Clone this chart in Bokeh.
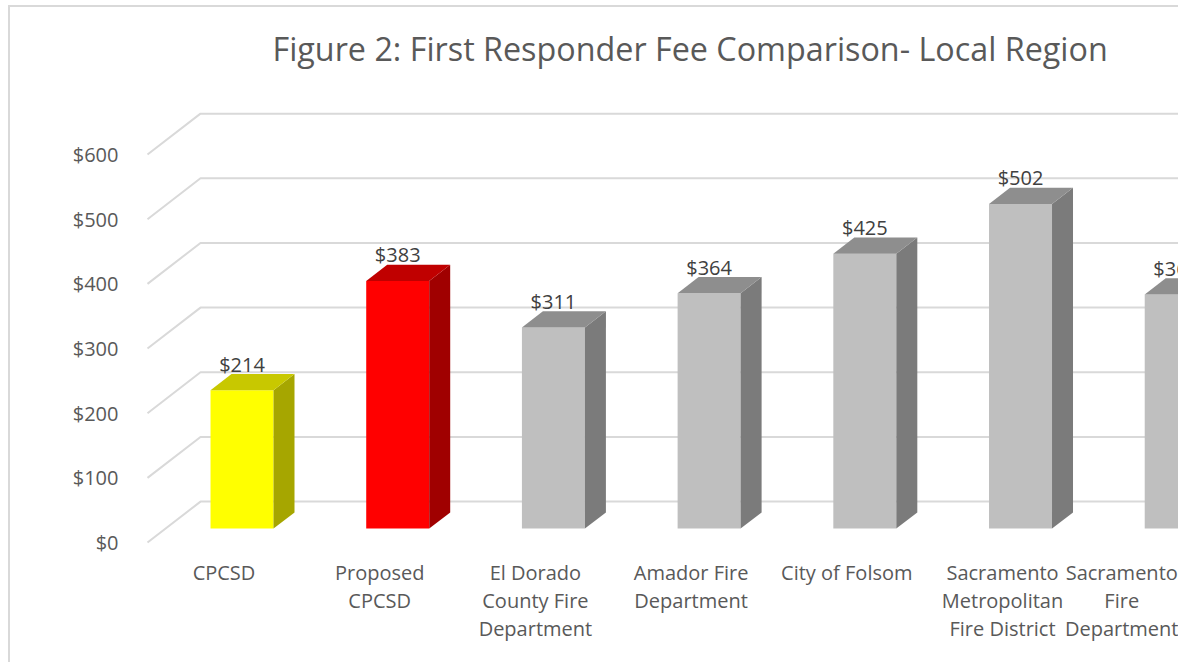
from bokeh.plotting import figure
from bokeh.models import Range1d, FixedTicker, NumeralTickFormatter, ColumnDataSource, LinearAxis
from bokeh.embed import file_html
from bokeh.resources import INLINE
from bokeh.core.properties import value

# ---------------- data ----------------
categories = [
    "CPCSD",
    "Proposed\nCPCSD",
    "El Dorado\nCounty Fire\nDepartment",
    "Amador Fire\nDepartment",
    "City of Folsom",
    "Sacramento\nMetropolitan\nFire District",
    "Sacramento\nFire\nDepartment",
]
fees = [214, 383, 311, 364, 425, 502, 362]
y_ticks = [0, 100, 200, 300, 400, 500, 600]
front_colors = ["#FFFF00", "#FF0000", "#BFBFBF", "#BFBFBF", "#BFBFBF", "#BFBFBF", "#BFBFBF"]
side_colors = ["#A6A600", "#A00000", "#7B7B7B", "#7B7B7B", "#7B7B7B", "#7B7B7B", "#7B7B7B"]
top_colors = ["#C8C800", "#C00000", "#8E8E8E", "#8E8E8E", "#8E8E8E", "#8E8E8E", "#8E8E8E"]
title_text = "Figure 2: First Responder Fee Comparison- Local Region"

# ---------------- geometry (screen scale) ----------------
OX, OY = 10, 7            # canvas offset produced by margin + border
W, H = 1170, 657
S = 0.648                 # px per dollar
PX = 155.7                # px per category
CAT0 = 223.5 - OX         # canvas x of category 0 on front plane
Y0 = 542 - OY             # canvas y of $0 on front plane
FL, FR, FT, FB = 140 - OX, W, 84 - OY, 552 - OY

DX = 53.0 / PX            # full depth offset (x, category units)
DY = 41.0 / S             # full depth offset (y, dollar units)
t1, t2 = 0.34, 0.736      # bar front / back depth fractions
hw = 31.5 / PX            # half bar width

x_start = (FL - CAT0) / PX
x_end = (FR - CAT0) / PX
y_start = (Y0 - FB) / S
y_end = (Y0 - FT) / S

p = figure(width=W, height=H, output_backend="svg", toolbar_location=None,
           x_range=Range1d(x_start, x_end), y_range=Range1d(y_start, y_end),
           min_border_left=FL, min_border_right=0, min_border_top=FT,
           min_border_bottom=H - FB, x_axis_type=None, y_axis_type=None)
p.styles = {"margin-left": "8px", "margin-top": "5px",
            "border-left": "2px solid #d9d9d9", "border-top": "2px solid #d9d9d9"}
p.outline_line_color = None
p.xgrid.visible = False
p.ygrid.visible = False

# title
p.title.text = title_text
p.title.text_font = "Open Sans"
p.title.text_font_size = "32.3px"
p.title.text_font_style = "normal"
p.title.text_color = "#595959"
p.title.align = "left"
p.title.vertical_align = "bottom"
p.title.offset = 272 - 140
p.title.standoff = 32

# 3D gridlines
gx0 = (147 - OX - CAT0) / PX
gxs = [[gx0, gx0 + DX, x_end + 1] for v in y_ticks]
gys = [[v, v + DY, v + DY] for v in y_ticks]
p.multi_line(xs=gxs, ys=gys, line_color="#d9d9d9", line_width=2)

# bars
idx = list(range(len(fees)))
L1 = [i + t1 * DX - hw for i in idx]
R1 = [i + t1 * DX + hw for i in idx]
R2 = [r + (t2 - t1) * DX for r in R1]
L2 = [l + (t2 - t1) * DX for l in L1]

front = ColumnDataSource(dict(left=L1, right=R1, bottom=[t1 * DY] * len(fees),
                              top=[f + t1 * DY for f in fees], color=front_colors))
p.quad(left="left", right="right", bottom="bottom", top="top", source=front,
       fill_color="color", line_color=None)

side_xs = [[r1, r1, r2, r2] for r1, r2 in zip(R1, R2)]
side_ys = [[t1 * DY, f + t1 * DY, f + t2 * DY, t2 * DY] for f in fees]
p.patches(xs=side_xs, ys=side_ys, fill_color=side_colors, line_color=None)

top_xs = [[l1, r1, r2, l2] for l1, r1, r2, l2 in zip(L1, R1, R2, L2)]
top_ys = [[f + t1 * DY, f + t1 * DY, f + t2 * DY, f + t2 * DY] for f in fees]
p.patches(xs=top_xs, ys=top_ys, fill_color=top_colors, line_color=None)

# value labels
lab = ColumnDataSource(dict(x=[i + t1 * DX for i in idx], y=[f + t2 * DY for f in fees],
                            text=["$" + str(f) for f in fees]))
p.text(x="x", y="y", text="text", source=lab, text_align="center", text_baseline="middle",
       y_offset=-10, text_font=value("Open Sans"), text_font_size="20px", text_color="#404040")

# axes
yax = LinearAxis(ticker=FixedTicker(ticks=y_ticks), formatter=NumeralTickFormatter(format="$0"))
yax.axis_line_color = None
yax.major_tick_line_color = None
yax.minor_tick_line_color = None
yax.major_label_standoff = 16
yax.major_label_text_font = "Open Sans"
yax.major_label_text_font_size = "20px"
yax.major_label_text_color = "#595959"
p.add_layout(yax, "left")

xax = LinearAxis(ticker=FixedTicker(ticks=idx),
                 major_label_overrides={i: c for i, c in zip(idx, categories)})
xax.axis_line_color = None
xax.major_tick_line_color = None
xax.minor_tick_line_color = None
xax.major_label_standoff = 0
xax.major_label_text_font = "Open Sans"
xax.major_label_text_font_size = "20px"
xax.major_label_text_color = "#595959"
xax.major_label_text_line_height = 1.05
p.add_layout(xax, "below")

open("out.html", "w").write(file_html(p, INLINE))
